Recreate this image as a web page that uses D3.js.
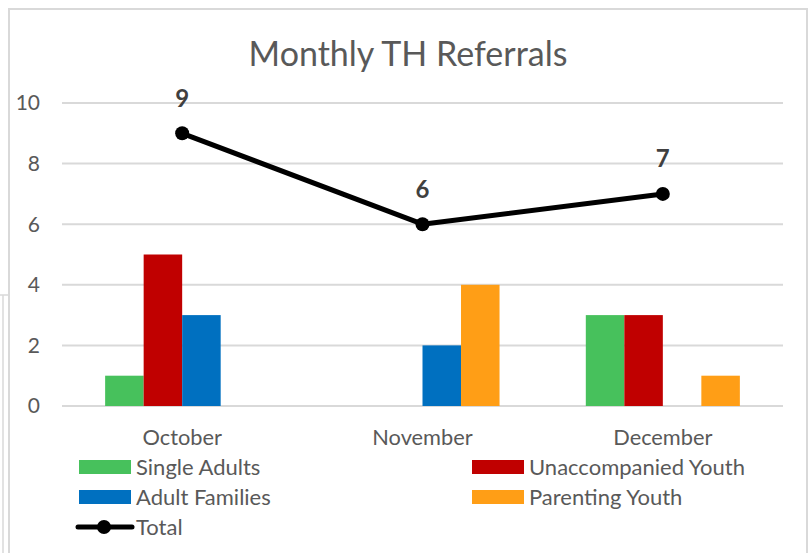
<!DOCTYPE html>
<html><head><meta charset="utf-8">
<script src="https://cdn.jsdelivr.net/npm/d3@7"></script>
<style>body{margin:0;background:#fff}svg{display:block}text{font-family:Lato,"Open Sans",sans-serif}</style>
</head><body><svg id="c" width="812" height="553"></svg>
<script>
const months = ["October", "November", "December"];
const seriesNames = ["Single Adults", "Unaccompanied Youth", "Adult Families", "Parenting Youth"];
const singleAdults = [1, 0, 3];
const unaccompaniedYouth = [5, 0, 3];
const adultFamilies = [3, 2, 0];
const parentingYouth = [0, 4, 1];
const total = [9, 6, 7];
const yTicks = [0, 2, 4, 6, 8, 10];
const colors = ["#47C15C", "#C00000", "#0070C0", "#FF9E16"];

const seriesVals = [singleAdults, unaccompaniedYouth, adultFamilies, parentingYouth];
const svg = d3.select("#c");
const grey = "#595959";

// chart borders
svg.append("rect").attr("x", 9).attr("y", 9).attr("width", 798).attr("height", 560)
  .attr("fill", "none").attr("stroke", "#D9D9D9").attr("stroke-width", 2);
svg.append("path").attr("d", "M0,295H9M3,295V553").attr("fill", "none").attr("stroke", "#D9D9D9").attr("stroke-width", 1.5);

const x = d3.scaleBand().domain(months).range([62, 783]);
const inner = d3.scaleBand().domain(seriesNames).range([0, x.bandwidth()]).paddingOuter(1.12);
const y = d3.scaleLinear().domain([0, 10]).range([406, 103]);

// gridlines
svg.append("g").selectAll("line").data(yTicks).join("line")
  .attr("x1", 62).attr("x2", 783).attr("y1", d => y(d)).attr("y2", d => y(d))
  .attr("stroke", "#D9D9D9").attr("stroke-width", 2);

// y tick labels
svg.append("g").selectAll("text").data(yTicks).join("text")
  .attr("x", 40).attr("y", d => y(d)).attr("dy", "0.35em").attr("text-anchor", "end")
  .attr("fill", grey).attr("font-size", 21).text(d => d);

// bars
const rows = [];
months.forEach((m, i) => seriesNames.forEach((s, j) => rows.push({m, s, v: seriesVals[j][i], c: colors[j]})));
svg.append("g").selectAll("rect").data(rows.filter(r => r.v > 0)).join("rect")
  .attr("x", d => x(d.m) + inner(d.s)).attr("width", inner.bandwidth())
  .attr("y", d => y(d.v)).attr("height", d => y(0) - y(d.v)).attr("fill", d => d.c);

// category labels
svg.append("g").selectAll("text").data(months).join("text")
  .attr("x", d => x(d) + x.bandwidth() / 2).attr("y", 437).attr("dy", "0.35em")
  .attr("text-anchor", "middle").attr("fill", grey).attr("font-size", 21.8).text(d => d);

// total line
const cx = d => x(d) + x.bandwidth() / 2;
svg.append("path").datum(months).attr("fill", "none").attr("stroke", "#000").attr("stroke-width", 5)
  .attr("stroke-linejoin", "round")
  .attr("d", d3.line().x(d => cx(d)).y((d, i) => y(total[i])));
svg.append("g").selectAll("circle").data(months).join("circle")
  .attr("cx", d => cx(d)).attr("cy", (d, i) => y(total[i])).attr("r", 7).attr("fill", "#000");
svg.append("g").selectAll("text").data(months).join("text")
  .attr("x", d => cx(d)).attr("y", (d, i) => y(total[i]) - 35).attr("dy", "0.35em")
  .attr("text-anchor", "middle").attr("fill", "#404040").attr("font-size", 24).attr("font-weight", "bold")
  .text((d, i) => total[i]);

// title
svg.append("text").attr("x", 408).attr("y", 54).attr("dy", "0.35em").attr("text-anchor", "middle")
  .attr("fill", grey).attr("font-size", 34).text("Monthly TH Referrals");

// legend
const leg = [
  {n: seriesNames[0], c: colors[0], x: 79, y: 467},
  {n: seriesNames[1], c: colors[1], x: 472, y: 467},
  {n: seriesNames[2], c: colors[2], x: 79, y: 497},
  {n: seriesNames[3], c: colors[3], x: 472, y: 497}
];
const lg = svg.append("g");
leg.forEach(l => {
  lg.append("rect").attr("x", l.x).attr("y", l.y - 7).attr("width", 52).attr("height", 14).attr("fill", l.c);
  lg.append("text").attr("x", l.x + 57).attr("y", l.y).attr("dy", "0.35em").attr("fill", grey)
    .attr("font-size", 22).text(l.n);
});
lg.append("line").attr("x1", 78).attr("x2", 132).attr("y1", 527).attr("y2", 527)
  .attr("stroke", "#000").attr("stroke-width", 5).attr("stroke-linecap", "round");
lg.append("circle").attr("cx", 104).attr("cy", 527).attr("r", 7).attr("fill", "#000");
lg.append("text").attr("x", 136).attr("y", 527).attr("dy", "0.35em").attr("fill", grey)
  .attr("font-size", 22).text("Total");
</script></body></html>
